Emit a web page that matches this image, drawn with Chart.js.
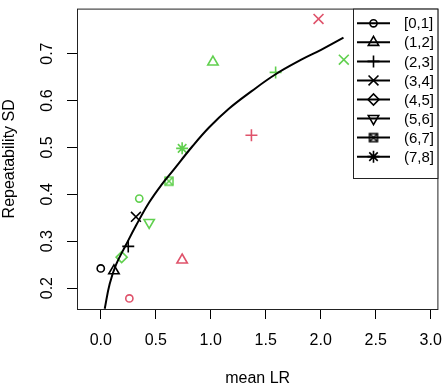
<!DOCTYPE html>
<html>
<head>
<meta charset="utf-8">
<script src="https://cdn.jsdelivr.net/npm/chart.js@4"></script>
<style>
  html, body { margin: 0; padding: 0; background: #fff; }
  #wrap { width: 447px; height: 386px; }
</style>
</head>
<body>
<div id="wrap"><canvas id="plot"></canvas></div>
<script>
// bins (legend categories) and the symbol used for each
const binLabels = ["[0,1]", "(1,2]", "(2,3]", "(3,4]", "(4,5]", "(5,6]", "(6,7]", "(7,8]"];
const binSymbols = ["circle", "triangle", "cross", "crossRot", "rectRot", "triangleDown", "boxX", "star"];

// black group
const blackX = [0.00, 0.12, 0.25, 0.32];
const blackY = [0.242, 0.237, 0.289, 0.352];
const blackBin = [0, 1, 2, 3];

// green group
const greenX = [0.35, 1.02, 1.59, 2.21, 0.19, 0.44, 0.62, 0.74];
const greenY = [0.391, 0.682, 0.660, 0.687, 0.266, 0.340, 0.428, 0.498];
const greenBin = [0, 1, 2, 3, 4, 5, 6, 7];

// red group
const redX = [0.26, 0.74, 1.37, 1.98];
const redY = [0.178, 0.260, 0.526, 0.774];
const redBin = [0, 1, 2, 3];

// fitted curve
const fitX = [0.036, 0.081, 0.141, 0.231, 0.322, 0.441, 0.561, 0.651, 0.832, 0.982, 1.162, 1.372, 1.583, 1.823, 2.003, 2.207];
const fitY = [0.156, 0.209, 0.251, 0.293, 0.334, 0.383, 0.423, 0.449, 0.502, 0.542, 0.582, 0.620, 0.655, 0.687, 0.708, 0.734];

const xTicks = [0.0, 0.5, 1.0, 1.5, 2.0, 2.5, 3.0];
const yTicks = [0.2, 0.3, 0.4, 0.5, 0.6, 0.7];

const BLACK = "#000000";
const RED = "#DF536B";
const GREEN = "#61D04F";

function boxX(color) {
  const c = document.createElement("canvas");
  c.width = 12; c.height = 12;
  const g = c.getContext("2d");
  g.strokeStyle = color;
  g.lineWidth = 1.5;
  g.strokeRect(2, 2, 8, 8);
  g.beginPath();
  g.moveTo(2, 2); g.lineTo(10, 10);
  g.moveTo(10, 2); g.lineTo(2, 10);
  g.stroke();
  return c;
}

const radiusFor = { circle: 3.6, triangle: 6, cross: 6, crossRot: 7, rectRot: 5.5, triangleDown: 6, boxX: 6, star: 6 };
const images = { [BLACK]: boxX(BLACK), [RED]: boxX(RED), [GREEN]: boxX(GREEN) };

function styleOf(sym, color) {
  if (sym === "triangleDown") return "triangle";
  if (sym === "boxX") return images[color];
  return sym;
}

function group(xs, ys, bins, color) {
  return {
    type: "scatter",
    data: xs.map((x, i) => ({ x: x, y: ys[i] })),
    showLine: false,
    borderColor: color,
    backgroundColor: "rgba(0,0,0,0)",
    pointBorderWidth: 1.6,
    pointStyle: ctx => styleOf(binSymbols[bins[ctx.dataIndex]], color),
    pointRadius: ctx => radiusFor[binSymbols[bins[ctx.dataIndex]]],
    pointRotation: ctx => binSymbols[bins[ctx.dataIndex]] === "triangleDown" ? 180 : 0,
    pointHoverRadius: ctx => radiusFor[binSymbols[bins[ctx.dataIndex]]],
  };
}

const boxPlugin = {
  id: "box",
  afterDraw(chart) {
    const a = chart.chartArea;
    const ctx = chart.ctx;
    ctx.save();
    ctx.strokeStyle = "#222";
    ctx.lineWidth = 1;
    ctx.strokeRect(a.left + 0.5, a.top + 0.5, a.right - a.left - 1, a.bottom - a.top);
    ctx.restore();
  }
};

const legendPlugin = {
  id: "rlegend",
  afterDraw(chart) {
    const ctx = chart.ctx;
    const a = chart.chartArea;
    const left = 353.5, top = a.top + 0.5, right = a.right - 0.5, bottom = 178.5;
    ctx.save();
    ctx.fillStyle = "#fff";
    ctx.fillRect(left, top, right - left, bottom - top);
    ctx.strokeStyle = "#222";
    ctx.lineWidth = 1;
    ctx.strokeRect(left, top, right - left, bottom - top);
    ctx.font = "15px 'Liberation Sans', Arial, sans-serif";
    ctx.textBaseline = "middle";
    ctx.textAlign = "left";
    binLabels.forEach((lab, i) => {
      const y = 23.3 + i * 19.05;
      ctx.strokeStyle = BLACK;
      ctx.lineWidth = 2;
      ctx.beginPath();
      ctx.moveTo(357, y);
      ctx.lineTo(390, y);
      ctx.stroke();
      const sym = binSymbols[i];
      ctx.lineWidth = 1.6;
      ctx.fillStyle = "rgba(0,0,0,0)";
      Chart.helpers.drawPoint(ctx, {
        pointStyle: styleOf(sym, BLACK),
        radius: radiusFor[sym],
        rotation: sym === "triangleDown" ? 180 : 0,
        borderWidth: 1.6
      }, 373.5, y);
      ctx.fillStyle = BLACK;
      ctx.fillText(lab, 404, y + 1);
    });
    ctx.restore();
  }
};

const font16 = { family: "'Liberation Sans', Arial, sans-serif", size: 16 };

new Chart(document.getElementById("plot"), {
  type: "scatter",
  data: {
    datasets: [
      {
        type: "line",
        data: fitX.map((x, i) => ({ x: x, y: fitY[i] })),
        borderColor: BLACK,
        borderWidth: 2,
        pointRadius: 0,
        pointHoverRadius: 0,
        fill: false,
        tension: 0.4,
      },
      group(blackX, blackY, blackBin, BLACK),
      group(greenX, greenY, greenBin, GREEN),
      group(redX, redY, redBin, RED),
    ]
  },
  options: {
    responsive: true,
    maintainAspectRatio: false,
    animation: false,
    layout: { padding: { left: 0, right: 5, top: 3, bottom: 0 } },
    plugins: { legend: { display: false }, tooltip: { enabled: false } },
    scales: {
      x: {
        type: "linear",
        min: -0.216,
        max: 3.07,
        afterBuildTicks: s => { s.ticks = xTicks.map(v => ({ value: v })); },
        afterFit: s => { s.height = 77; s.paddingLeft = 0; s.paddingRight = 0; },
        ticks: { color: BLACK, font: font16, padding: 12, maxRotation: 0, callback: v => v.toFixed(1) },
        grid: { drawOnChartArea: false, drawTicks: true, tickLength: 10, color: BLACK, lineWidth: 1 },
        border: { display: false },
        title: { display: true, text: "mean LR", color: BLACK, font: { family: font16.family, size: 16, lineHeight: 1 }, padding: { top: 0, bottom: -1 } }
      },
      y: {
        type: "linear",
        min: 0.1555,
        max: 0.796,
        afterBuildTicks: s => { s.ticks = yTicks.map(v => ({ value: v })); },
        afterFit: s => { s.width = 77; s.paddingTop = 0; s.paddingBottom = 0; },
        ticks: { color: BLACK, font: font16, padding: 8, minRotation: 90, maxRotation: 90, crossAlign: "center", callback: v => v.toFixed(1) },
        grid: { drawOnChartArea: false, drawTicks: true, tickLength: 10, color: BLACK, lineWidth: 1 },
        border: { display: false },
        title: { display: true, text: "Repeatability SD", color: BLACK, font: font16, padding: { top: 0, bottom: 0 } }
      }
    }
  },
  plugins: [boxPlugin, legendPlugin]
});
</script>
</body>
</html>
